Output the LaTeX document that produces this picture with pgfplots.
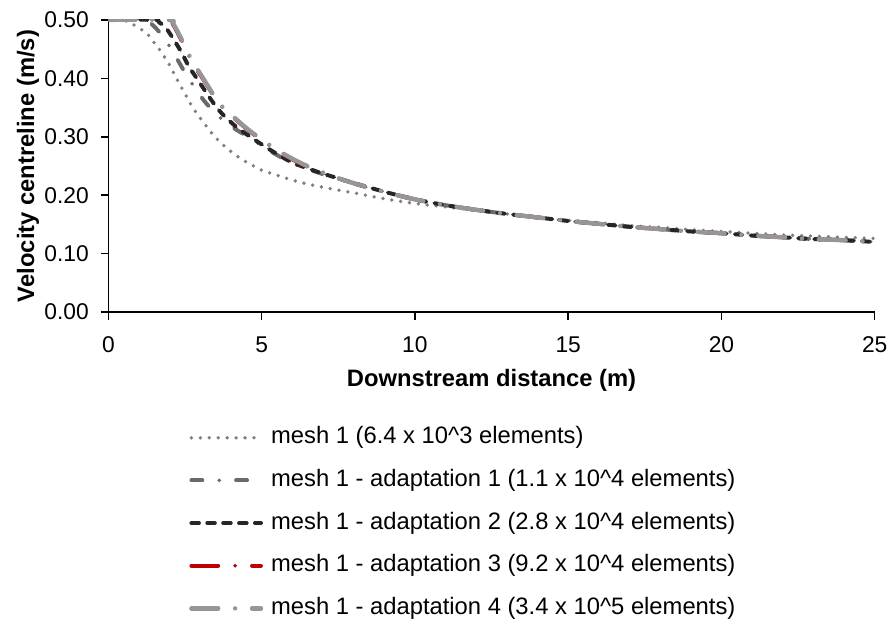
\documentclass[border=0pt]{standalone}
\usepackage{pgfplots}
\pgfplotsset{compat=1.18}
\usepackage{fontspec}
\setmainfont{Liberation Sans}

\definecolor{meshgray}{HTML}{7F7F7F}
\definecolor{adaptone}{HTML}{6A6A6A}
\definecolor{adapttwo}{HTML}{262626}
\definecolor{adaptthree}{HTML}{C00000}
\definecolor{adaptfour}{HTML}{969696}

\begin{document}
\begin{tikzpicture}
  \begin{axis}[
    name=ax,
    scale only axis,
    width=385.5bp, height=147bp,
    xmin=0, xmax=25, ymin=0, ymax=0.5,
    xtick={0,5,...,25},
    ytick={0,0.1,...,0.5},
    axis x line=bottom, axis y line=left,
    axis line style={-, line width=0.75bp},
    tick style={line width=0.75bp, black},
    tick align=outside,
    major tick length=3.8bp,
    yticklabel style={/pgf/number format/fixed, /pgf/number format/fixed zerofill,
      /pgf/number format/precision=2, xshift=-2.5bp},
    xticklabel style={yshift=-5bp},
    /pgf/number format/assume math mode=true,
    tick label style={font=\fontsize{11.5}{13}\selectfont},
    label style={font=\bfseries\fontsize{12}{14}\selectfont},
    xlabel={Downstream distance (m)},
    ylabel={Velocity centreline (m/s)},
    xlabel style={at={(axis description cs:0.5,-0.2347)}, anchor=center},
    ylabel style={at={(axis description cs:-0.105,0.5)}, anchor=center},
    legend image code/.code={\draw[#1] (0bp,0bp) -- (35bp,0bp);},
    legend cell align=left,
    legend style={draw=none, fill=none, inner sep=0pt, anchor=north west,
      at={(axis description cs:0.105,-0.391)},
      font=\fontsize{12}{14}\selectfont,
      column sep=4bp, row sep=10.35bp,
      nodes={inner sep=0pt, text height=8.6bp, text depth=2.5bp}},
    every axis plot/.append style={line cap=round, line join=round},
  ]
  % mesh 1
  \addplot[meshgray, line width=1.9bp, dash pattern=on 0bp off 4.5bp, smooth] coordinates {
    (0,0.5) (0.5,0.4995) (0.78,0.493) (1.0,0.486) (1.23,0.478) (1.4,0.468)
    (1.56,0.456) (1.75,0.444) (1.88,0.432) (2.04,0.419) (2.24,0.398)
    (2.52,0.372) (2.79,0.347) (3.11,0.324) (3.44,0.302) (3.83,0.282)
    (4.25,0.265) (4.67,0.252) (5.0,0.243) (5.87,0.228) (6.5,0.219)
    (7.26,0.211) (8,0.204) (9,0.194) (10,0.186) (11,0.180) (12,0.174)
    (13,0.168) (14,0.162) (15,0.157) (16,0.153) (17,0.148) (18,0.145)
    (19,0.141) (20,0.138) (21,0.135) (22,0.132) (23,0.130) (24,0.128)
    (25,0.126)};
  \addlegendentry{mesh 1 (6.4 x 10\textasciicircum 3 elements)}
  % adaptation 1
  \addplot[adaptone, line width=2bp, dash pattern=on 5.5bp off 8.5bp on 0bp off 8.5bp, smooth] coordinates {
    (0,0.5) (1.2,0.5) (1.43,0.492) (1.65,0.48) (1.9,0.462) (2.1,0.447)
    (2.3,0.428) (2.6,0.401) (2.9,0.378) (3.18,0.358) (3.6,0.335)
    (4.15,0.313) (4.5,0.302) (5.0,0.285) (5.3,0.275) (6,0.255) (7,0.236)
    (8,0.220) (9,0.206) (10,0.193) (11,0.183) (12,0.175) (13,0.168)
    (14,0.162) (15,0.156) (16,0.151) (17,0.146) (18,0.142) (19,0.138)
    (20,0.135) (21,0.131) (22,0.128) (23,0.125) (24,0.123) (25,0.120)};
  \addlegendentry{mesh 1 - adaptation 1 (1.1 x 10\textasciicircum 4 elements)}
  % adaptation 2
  \addplot[adapttwo, line width=2bp, dash pattern=on 3.8bp off 4.2bp, smooth] coordinates {
    (0,0.5) (1.5,0.5) (1.65,0.496) (1.85,0.488) (2.04,0.474) (2.37,0.446)
    (2.63,0.42) (2.95,0.395) (3.37,0.362) (3.7,0.340) (4.15,0.318)
    (4.6,0.301) (5.0,0.287) (5.3,0.277) (6,0.256) (7,0.237) (8,0.221)
    (9,0.206) (10,0.193) (11,0.183) (12,0.175) (13,0.168) (14,0.162)
    (15,0.156) (16,0.151) (17,0.146) (18,0.142) (19,0.138) (20,0.135)
    (21,0.131) (22,0.128) (23,0.125) (24,0.123) (25,0.120)};
  \addlegendentry{mesh 1 - adaptation 2 (2.8 x 10\textasciicircum 4 elements)}
  % adaptation 3
  \addplot[adaptthree, line width=2bp, dash pattern=on 13.5bp off 8.5bp on 0bp off 8.5bp, smooth] coordinates {
    (0,0.5) (1.95,0.5) (2.1,0.493) (2.3,0.474) (2.46,0.457) (2.69,0.432)
    (2.95,0.410) (3.2,0.390) (3.44,0.370) (3.76,0.348) (4.15,0.330)
    (4.5,0.314) (4.8,0.302) (5.2,0.287) (5.64,0.272) (6.4,0.251)
    (7.5,0.229) (8.37,0.215) (9.43,0.200) (10,0.193) (11,0.183) (12,0.175)
    (13,0.168) (14,0.162) (15,0.156) (16,0.151) (17,0.146) (18,0.142)
    (19,0.138) (20,0.135) (21,0.131) (22,0.128) (23,0.125) (24,0.123)
    (25,0.120)};
  \addlegendentry{mesh 1 - adaptation 3 (9.2 x 10\textasciicircum 4 elements)}
  % adaptation 4
  \addplot[adaptfour, line width=2.2bp, dash pattern=on 13.5bp off 8.5bp on 0bp off 8.5bp, smooth] coordinates {
    (0,0.5) (1.97,0.5) (2.12,0.493) (2.31,0.475) (2.47,0.458) (2.7,0.433)
    (2.96,0.411) (3.2,0.391) (3.44,0.371) (3.76,0.349) (4.15,0.331)
    (4.5,0.315) (4.8,0.303) (5.2,0.288) (5.64,0.273) (6.4,0.252)
    (7.5,0.229) (8.37,0.215) (9.43,0.200) (10,0.193) (11,0.183) (12,0.175)
    (13,0.168) (14,0.162) (15,0.156) (16,0.151) (17,0.146) (18,0.142)
    (19,0.138) (20,0.135) (21,0.131) (22,0.128) (23,0.125) (24,0.123)
    (25,0.120)};
  \addlegendentry{mesh 1 - adaptation 4 (3.4 x 10\textasciicircum 5 elements)}
  \end{axis}
  \useasboundingbox ([xshift=-54.5bp,yshift=-152bp]ax.south west)
    rectangle ([xshift=7bp,yshift=10bp]ax.north east);
\end{tikzpicture}
\end{document}
